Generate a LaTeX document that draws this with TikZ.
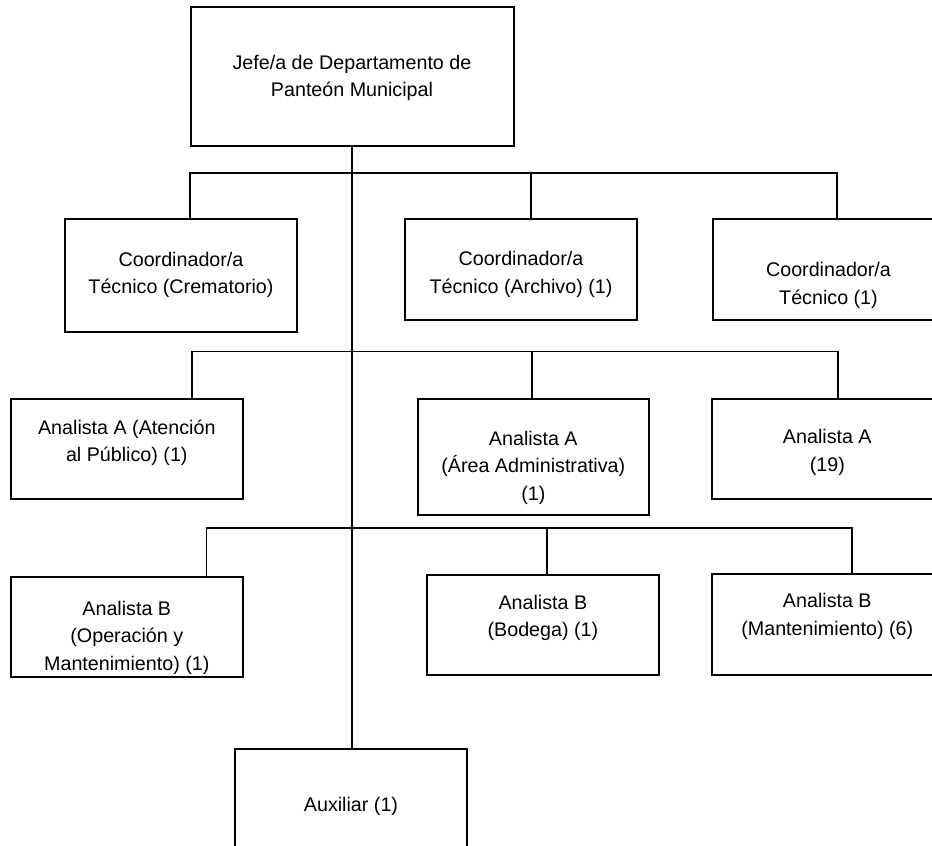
\documentclass[tikz,border=0pt]{standalone}
\usepackage{fontspec}
\setmainfont{Liberation Sans}
\begin{document}
\begin{tikzpicture}[x=1pt,y=-1pt,
  box/.style={draw, line width=2pt, rectangle, inner sep=0pt, minimum width=231.5pt},
  % text nodes are placed by the baseline of their last line
  lbl/.style={align=center, anchor=base, inner sep=0pt, font=\fontsize{19.7}{27.3}\selectfont},
  wire/.style={line width=1.9pt}]
\useasboundingbox (0,0) rectangle (932,846);
\clip (0,0) rectangle (932,846);

% head of department
\node[box, minimum width=323pt, minimum height=139pt] (jefe) at (352,76.5) {};
\node[lbl] (jefeT) at (352,96.3) {Jefe/a de Departamento de\\Panteón Municipal};

% coordinators
\node[box, minimum height=113pt] (c1) at (181,275.5) {};
\node[lbl] (c1T) at (181,293.5) {Coordinador/a\\Técnico (Crematorio)};
\node[box, minimum height=101pt] (c2) at (521,269.5) {};
\node[lbl] (c2T) at (521,293) {Coordinador/a\\Técnico (Archivo) (1)};
\node[box, minimum height=101pt] (c3) at (828.5,269.5) {};
\node[lbl] (c3T) at (828.5,304) {Coordinador/a\\Técnico (1)};

% analysts A
\node[box, minimum height=100.3pt] (a1) at (126.8,449.2) {};
\node[lbl] (a1T) at (126.8,461.7) {Analista A (Atención\\al Público) (1)};
\node[box, minimum height=116.5pt] (a2) at (533.3,457.2) {};
\node[lbl] (a2T) at (533.3,500) {Analista A\\(Área Administrativa)\\(1)};
\node[box, minimum height=100.3pt] (a3) at (827.3,449.2) {};
\node[lbl] (a3T) at (827.3,471) {Analista A\\(19)};

% analysts B
\node[box, minimum height=100.6pt] (b1) at (126.8,627) {};
\node[lbl] (b1T) at (126.8,670) {Analista B\\(Operación y\\Mantenimiento) (1)};
\node[box, minimum height=100pt] (b2) at (542.9,625) {};
\node[lbl] (b2T) at (542.9,636.7) {Analista B\\(Bodega) (1)};
\node[box, minimum height=101pt] (b3) at (827.3,624.5) {};
\node[lbl] (b3T) at (827.3,635) {Analista B\\(Mantenimiento) (6)};

% assistant
\node[box, minimum height=121pt] (aux) at (351,809.5) {};
\node[lbl] (auxT) at (351,811) {Auxiliar (1)};

% bus junctions
\coordinate (p1) at (190,172.7);
\coordinate (p2) at (531,172.7);
\coordinate (p3) at (836.7,172.7);
\coordinate (q1) at (191.7,351.5);
\coordinate (q2) at (532,351.5);
\coordinate (q3) at (838,351.5);
\coordinate (r1) at (206.5,528.3);
\coordinate (r2) at (546.8,528.3);
\coordinate (r3) at (852,528.3);

% main trunk
\draw[wire] (jefe.south) -- (jefe.south |- aux.north);

% first level
\draw[wire] (p1 |- c1.north) -- (p1) -- (p3) -- (p3 |- c3.north);
\draw[wire] (p2) -- (p2 |- c2.north);

% second level
\draw[wire] (q1 |- a1.north) -- (q1) -- (q3) -- (q3 |- a3.north);
\draw[wire] (q2) -- (q2 |- a2.north);

% third level
\draw[wire] (r1 |- b1.north) -- (r1) -- (r3) -- (r3 |- b3.north);
\draw[wire] (r2) -- (r2 |- b2.north);
\end{tikzpicture}
\end{document}
